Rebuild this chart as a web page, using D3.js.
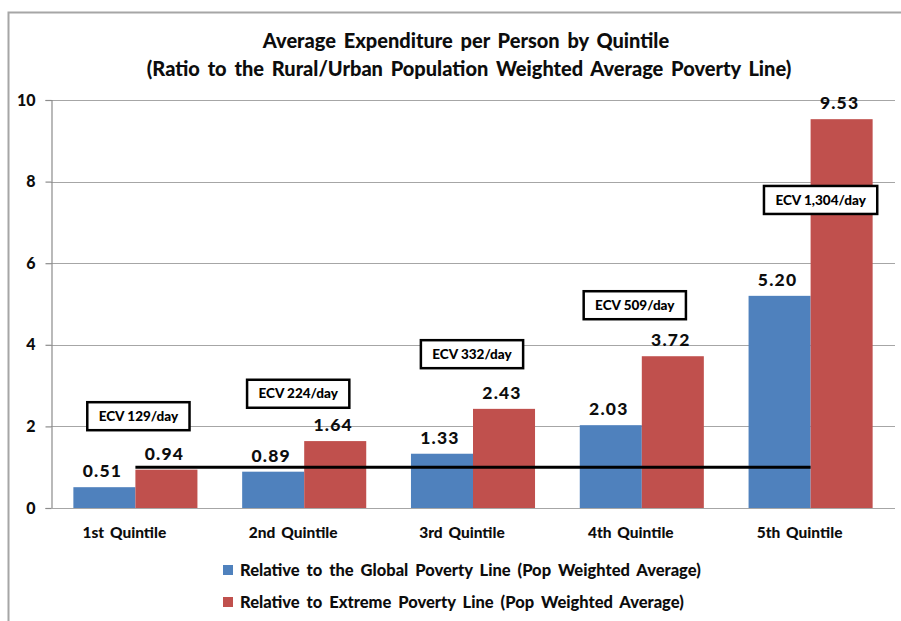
<!DOCTYPE html>
<html>
<head>
<meta charset="utf-8">
<script src="https://cdn.jsdelivr.net/npm/d3@7/dist/d3.min.js"></script>
<style>
  html, body { margin: 0; padding: 0; background: #fff; }
  svg { display: block; font-family: Lato, "Open Sans", sans-serif; }
</style>
</head>
<body>
<svg id="chart" width="901" height="621"></svg>
<script>
// Quintile categories and the two ratio series
const quintiles = ["1st Quintile", "2nd Quintile", "3rd Quintile", "4th Quintile", "5th Quintile"];
const globalRatio = [0.51, 0.89, 1.33, 2.03, 5.20];
const extremeRatio = [0.94, 1.64, 2.43, 3.72, 9.53];
const seriesNames = [
  "Relative to the Global Poverty Line (Pop Weighted Average)",
  "Relative to Extreme Poverty Line (Pop Weighted Average)"
];
const seriesColors = ["#4F81BD", "#C0504D"];
const yTicks = [0, 2, 4, 6, 8, 10];
// Expenditure per person per day, shown in callout boxes
const ecvLabels = ["ECV 129/day", "ECV 224/day", "ECV 332/day", "ECV 509/day", "ECV 1,304/day"];
// Callout centre heights (in ratio units) and horizontal nudges
const ecvLevel = [2.25, 2.80, 3.77, 4.97, 7.55];
const ecvShift = [3, -6, -1, -7, 10];
const povertyLine = 1;

const svg = d3.select("#chart");
const W = 901, H = 621;
const plot = { left: 51, right: 895, top: 100, bottom: 508 };
const ink = "#0d0d0d";

// outer frame (only top and left edges fall inside the view)
svg.append("rect")
  .attr("x", 8.5).attr("y", 12.5)
  .attr("width", W + 20).attr("height", H + 20)
  .attr("fill", "none").attr("stroke", "#A6A6A6").attr("stroke-width", 2);

const x = d3.scaleBand().domain(quintiles).range([plot.left, plot.right]).padding(0);
const y = d3.scaleLinear().domain([0, 10]).range([plot.bottom, plot.top]);
const groupW = x.bandwidth() * 0.735;
const barW = groupW / 2;

// gridlines
svg.append("g").selectAll("line")
  .data(yTicks.filter(d => d > 0))
  .join("line")
  .attr("x1", plot.left).attr("x2", plot.right)
  .attr("y1", d => Math.round(y(d)) + 0.5).attr("y2", d => Math.round(y(d)) + 0.5)
  .attr("stroke", "#A6A6A6").attr("stroke-width", 1.2);

// y axis
const yAxis = d3.axisLeft(y).tickValues(yTicks).tickSize(6).tickPadding(10).tickFormat(d3.format("d"));
const gy = svg.append("g").attr("transform", `translate(${plot.left + 0.5},0)`).call(yAxis);
gy.select(".domain").attr("stroke", "#8C8C8C").attr("stroke-width", 1.2);
gy.selectAll(".tick line").attr("stroke", "#8C8C8C").attr("stroke-width", 1.2);
gy.selectAll(".tick text")
  .attr("font-family", "Lato, sans-serif").attr("font-weight", 900)
  .attr("font-size", 16).attr("fill", ink);

// baseline
svg.append("line")
  .attr("x1", plot.left).attr("x2", plot.right)
  .attr("y1", plot.bottom + 0.5).attr("y2", plot.bottom + 0.5)
  .attr("stroke", "#A6A6A6").attr("stroke-width", 1.2);

// bars
const series = [globalRatio, extremeRatio];
series.forEach((vals, si) => {
  svg.append("g").selectAll("rect")
    .data(vals)
    .join("rect")
    .attr("x", (d, i) => x(quintiles[i]) + (x.bandwidth() - groupW) / 2 + si * barW)
    .attr("y", d => y(d))
    .attr("width", barW)
    .attr("height", d => y(0) - y(d))
    .attr("fill", seriesColors[si]);
});

// poverty line reference from first to last category centre
svg.append("line")
  .attr("x1", x(quintiles[0]) + x.bandwidth() / 2)
  .attr("x2", x(quintiles[quintiles.length - 1]) + x.bandwidth() / 2)
  .attr("y1", y(povertyLine)).attr("y2", y(povertyLine))
  .attr("stroke", "#000").attr("stroke-width", 3);

// value labels
series.forEach((vals, si) => {
  svg.append("g").selectAll("text")
    .data(vals)
    .join("text")
    .attr("x", (d, i) => x(quintiles[i]) + (x.bandwidth() - groupW) / 2 + si * barW + barW / 2 - 2)
    .attr("y", d => y(d) - 10)
    .attr("text-anchor", "middle")
    .attr("font-weight", 900).attr("font-size", 17.5)
    .attr("letter-spacing", 1.2)
    .attr("fill", ink)
    .text(d => d.toFixed(2));
});

// category labels
svg.append("g").selectAll("text")
  .data(quintiles)
  .join("text")
  .attr("x", d => x(d) + x.bandwidth() / 2 - 11)
  .attr("y", 538)
  .attr("text-anchor", "middle")
  .attr("font-weight", 900).attr("font-size", 15.5)
  .attr("word-spacing", 2)
  .attr("fill", ink)
  .text(d => d);

// ECV callouts
const boxH = 28;
const callouts = svg.append("g").selectAll("g")
  .data(ecvLabels)
  .join("g")
  .attr("transform", (d, i) => `translate(${x(quintiles[i]) + x.bandwidth() / 2 + ecvShift[i]},${y(ecvLevel[i])})`);
callouts.append("text")
  .attr("text-anchor", "middle").attr("dy", "0.35em")
  .attr("font-weight", 900).attr("font-size", 13.5)
  .attr("fill", "#000")
  .text(d => d);
callouts.each(function () {
  const g = d3.select(this);
  const bb = g.select("text").node().getBBox();
  const w = bb.width + 22;
  g.insert("rect", "text")
    .attr("x", -w / 2).attr("y", -boxH / 2)
    .attr("width", w).attr("height", boxH)
    .attr("fill", "#fff").attr("stroke", "#000").attr("stroke-width", 2.5);
});

// title
const title = svg.append("text")
  .attr("text-anchor", "middle")
  .attr("font-weight", 900).attr("font-size", 20).attr("word-spacing", 3)
  .attr("fill", ink);
title.append("tspan").attr("x", 466).attr("y", 48).text("Average Expenditure per Person by Quintile");
title.append("tspan").attr("x", 469).attr("y", 76).text("(Ratio to the Rural/Urban Population Weighted Average Poverty Line)");

// legend
const legend = svg.append("g").selectAll("g")
  .data(seriesNames)
  .join("g")
  .attr("transform", (d, i) => `translate(223,${565 + i * 32})`);
legend.append("rect")
  .attr("width", 10).attr("height", 10)
  .attr("fill", (d, i) => seriesColors[i]);
legend.append("text")
  .attr("x", 17).attr("y", 5).attr("dy", "0.35em")
  .attr("font-weight", 900).attr("font-size", 16.5).attr("word-spacing", 3)
  .attr("fill", ink)
  .text(d => d);
</script>
</body>
</html>
